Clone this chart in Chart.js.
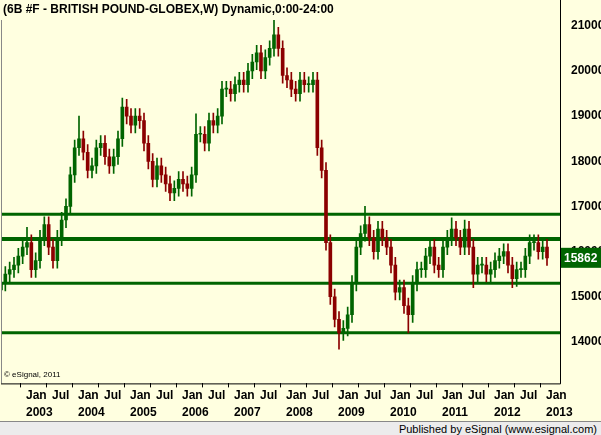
<!DOCTYPE html>
<html><head><meta charset="utf-8">
<script src="https://cdn.jsdelivr.net/npm/chart.js@4"></script>
<style>
body{margin:0;background:#ffffe0;width:601px;height:435px;overflow:hidden;font-family:"Liberation Sans",Arial,sans-serif}
#wrap{position:absolute;left:0;top:0;width:601px;height:421px}
#foot{position:absolute;left:0;top:421px;width:601px;height:14px;background:#ececec;border-top:1px solid #888;font-size:11px;text-align:right;line-height:14px}
#foot span{padding-right:4px}
</style></head>
<body>
<div id="wrap"><canvas id="c" width="601" height="421"></canvas></div>
<div id="foot"><span>Published by eSignal (www.esignal.com)</span></div>
<script>
// ===== Data (monthly closes, Aug 2002 .. Jan 2013) =====
const startYear = 2002, startMonth = 7; // Aug 2002
const closes = [15300,15500,15600,15700,15900,16100,16200,15600,15800,16300,16600,16100,15800,16300,16700,
  17000,17700,18300,18500,18200,17800,17900,18300,18400,18100,17900,18100,18500,19200,19000,18800,19000,18900,
  18400,18000,17600,17900,17700,17500,17300,17400,17600,17500,17400,17700,18600,18600,18400,18900,18800,19000,
  19600,19600,19500,19700,19800,19700,20000,20200,20400,20000,20300,20500,20800,20500,19900,19800,19600,19500,
  19800,19700,19700,19800,18300,17800,16200,15000,14500,14200,14300,14600,15300,16100,16400,16600,16300,16000,
  16500,16300,16100,15700,15100,15200,14800,14600,15300,15600,15600,15900,16100,15700,15600,16100,16300,16500,
  16300,16100,16500,16100,15500,15700,15700,15500,15600,15800,15900,16000,15700,15400,15600,15600,15900,16200,
  16200,16000,16100,15862];
// months since Jan 2003 -> [high, low] where a spike sticks out of the usual wick
const spikes = {1:[16540,null],10:[17150,null],13:[19000,null],23:[19400,null],40:[19050,null],
  58:[21130,null],73:[null,13840],79:[17000,null],89:[null,14200],99:[16750,null],102:[16700,null],
  104:[null,15200],113:[null,15200],117:[16300,null]};
const levels = [16825, 16280, 15300, 14200];
const yTicks = [14000,15000,16000,17000,18000,19000,20000,21000];
const extraMonths = 3;

const labels = [], bodies = [], wicks = [], colors = [];
const n = closes.length + extraMonths;
for (let i = 0; i < n; i++) {
  const m = startMonth + i;
  labels.push((startYear + Math.floor(m / 12)) + '-' + (m % 12 + 1));
  if (i >= closes.length) { bodies.push(null); wicks.push(null); colors.push('#006400'); continue; }
  const c = closes[i], o = i ? closes[i - 1] : 15150;
  let hi = Math.max(o, c) + 170, lo = Math.min(o, c) - 170;
  const s = spikes[i - 5];
  if (s) { if (s[0]) hi = Math.max(hi, s[0]); if (s[1]) lo = Math.min(lo, s[1]); }
  bodies.push([o, c]); wicks.push([lo, hi]);
  colors.push(c >= o ? '#006400' : '#8b0000');
}

const GREEN = '#006400';
const extras = {
  id: 'extras',
  beforeDatasetsDraw(ch) {
    const {ctx, chartArea: a, scales: {y}} = ch;
    ctx.save();
    ctx.strokeStyle = GREEN;
    levels.forEach((v, i) => {
      ctx.lineWidth = i === 1 ? 4 : 3;
      const py = y.getPixelForValue(v);
      ctx.beginPath(); ctx.moveTo(a.left, py); ctx.lineTo(a.right, py); ctx.stroke();
    });
    ctx.restore();
  },
  afterDraw(ch) {
    const {ctx, chartArea: a, scales: {y}} = ch;
    ctx.save();
    ctx.strokeStyle = '#888'; ctx.lineWidth = 1;
    ctx.beginPath(); ctx.moveTo(a.left + 0.5, a.top); ctx.lineTo(a.left + 0.5, a.bottom); ctx.stroke();
    ctx.strokeStyle = '#000';
    ctx.beginPath(); ctx.moveTo(a.right + 0.5, 0); ctx.lineTo(a.right + 0.5, a.bottom + 0.5); ctx.lineTo(a.left, a.bottom + 0.5); ctx.stroke();
    ctx.fillStyle = '#000';
    ctx.font = 'bold 12px "Liberation Sans", Arial';
    ctx.textBaseline = 'middle';
    ctx.fillText('(6B #F - BRITISH POUND-GLOBEX,W) Dynamic,0:00-24:00', 3, 10);
    ctx.font = '8px "Liberation Sans", Arial';
    ctx.fillText('\u00a9 eSignal, 2011', 4, a.bottom - 9);
    const last = closes[closes.length - 1], py = y.getPixelForValue(last);
    ctx.fillStyle = GREEN;
    ctx.fillRect(a.right + 1, py - 10, 601 - a.right, 20);
    ctx.fillStyle = '#fff';
    ctx.font = 'bold 12px "Liberation Sans", Arial';
    ctx.fillText(String(last), a.right + 4, py + 1);
    ctx.restore();
  }
};

const axisFont = { family: '"Liberation Sans", Arial', size: 12, weight: 'bold', lineHeight: 1.4 };
new Chart(document.getElementById('c'), {
  type: 'bar',
  data: {
    labels: labels,
    datasets: [
      { data: wicks, backgroundColor: colors, barThickness: 1, grouped: false, order: 2 },
      { data: bodies, backgroundColor: colors, barThickness: 3, grouped: false, order: 1, minBarLength: 1 }
    ]
  },
  options: {
    responsive: false, animation: false,
    layout: { padding: { left: 1, top: 20, right: 0, bottom: 0 } },
    plugins: { legend: { display: false }, tooltip: { enabled: false } },
    scales: {
      x: {
        offset: false,
        grid: { display: true, drawOnChartArea: false, tickLength: 4, color: '#000',
          lineWidth: ctx => (ctx.tick && ctx.tick.label !== '' && ctx.tick.label !== undefined) ? 1 : 0 },
        border: { display: false },
        ticks: {
          autoSkip: false, maxRotation: 0, align: 'start', padding: 0,
          color: '#000', font: axisFont,
          callback: (v, i) => {
            const m = (startMonth + i) % 12, yr = startYear + Math.floor((startMonth + i) / 12);
            if (m === 0) return [' Jan', ' ' + yr];
            if (m === 6) return ' Jul';
            return '';
          }
        }
      },
      y: {
        position: 'right', min: 13080, max: 21130,
        afterFit: s => { s.width = 41; },
        afterBuildTicks: s => { s.ticks = yTicks.map(v => ({ value: v })); },
        grid: { display: false }, border: { display: false },
        ticks: { padding: 3, color: '#000', font: { family: '"Liberation Sans", Arial', size: 12, weight: 'bold' },
          callback: v => String(v) }
      }
    }
  },
  plugins: [extras]
});
</script>
</body></html>
